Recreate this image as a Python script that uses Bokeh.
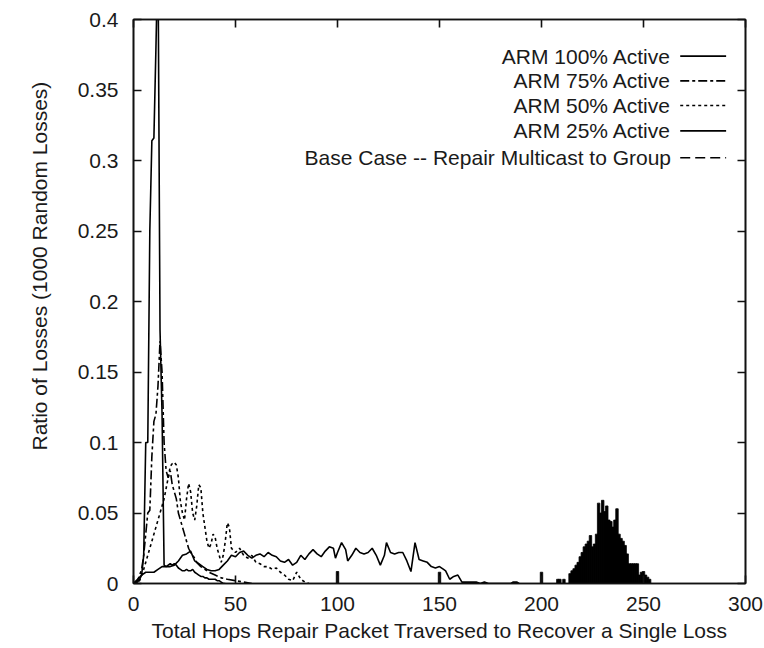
from bokeh.plotting import figure
from bokeh.models import (Range1d, FixedTicker, LinearAxis, CustomJSTickFormatter, Label,
                          Arrow, Title)
from bokeh.embed import file_html
from bokeh.resources import INLINE

# ---------------- data ----------------
arm100_x = [0, 2, 3, 4, 5, 6, 7, 8, 9, 10, 11, 12, 13, 14, 15, 16, 17, 18, 19, 20, 21, 22,
            23, 24, 25, 26, 27, 28, 29, 30, 31, 32, 33, 34, 35, 36, 37, 38, 39, 40, 41, 42,
            43, 44, 45]
arm100_y = [0, 0.001, 0.003, 0.006, 0.02, 0.1, 0.1, 0.25, 0.314, 0.316, 0.38, 0.45, 0.18,
            0.12, 0.013, 0.012, 0.013, 0.014, 0.013, 0.014, 0.013, 0.011, 0.01, 0.009,
            0.009, 0.01, 0.009, 0.009, 0.01, 0.008, 0.007, 0.006, 0.005, 0.005, 0.004,
            0.004, 0.003, 0.003, 0.003, 0.003, 0.002, 0.002, 0.001, 0.0, 0.0]

arm75_x = [0, 2, 4, 5, 6, 7, 8, 9, 10, 11, 12, 13, 14, 15, 16, 17, 18, 19, 20, 21, 22, 23,
           24, 25, 26, 27, 28, 29, 30, 31, 33, 35, 37, 40, 43, 46, 50, 54, 58]
arm75_y = [0, 0.002, 0.01, 0.02, 0.035, 0.05, 0.052, 0.09, 0.115, 0.12, 0.14, 0.172, 0.15,
           0.1, 0.08, 0.075, 0.08, 0.07, 0.065, 0.06, 0.05, 0.045, 0.04, 0.035, 0.03, 0.025,
           0.022, 0.02, 0.018, 0.015, 0.012, 0.01, 0.008, 0.006, 0.004, 0.003, 0.002, 0.001,
           0.0]

arm50_x = [0, 3, 5, 7, 9, 11, 13, 15, 17, 18, 19, 20, 21, 22, 23, 24, 25, 26, 27, 28, 29,
           30, 31, 32, 33, 34, 35, 36, 37, 38, 39, 40, 41, 42, 43, 44, 45, 46, 47, 48, 50,
           52, 54, 56, 58, 60, 62, 64, 66, 68, 70, 72, 74, 76, 78, 80, 82, 84, 86]
arm50_y = [0, 0.002, 0.01, 0.02, 0.03, 0.04, 0.05, 0.06, 0.075, 0.083, 0.085, 0.086, 0.084,
           0.075, 0.058, 0.05, 0.045, 0.06, 0.071, 0.065, 0.05, 0.045, 0.055, 0.07, 0.068,
           0.05, 0.04, 0.03, 0.025, 0.028, 0.035, 0.033, 0.025, 0.02, 0.015, 0.02, 0.03,
           0.043, 0.04, 0.025, 0.022, 0.025, 0.02, 0.018, 0.02, 0.015, 0.014, 0.012, 0.012,
           0.01, 0.011, 0.008, 0.006, 0.003, 0.002, 0.008, 0.003, 0.001, 0.0]

arm25_x = [0, 2, 4, 6, 8, 10, 12, 14, 16, 18, 20, 22, 24, 26, 28, 30, 32, 34, 36, 38, 40,
           42, 44, 46, 48, 50, 52, 54, 56, 58, 60, 62, 64, 66, 68, 70, 72, 74, 76, 78, 80,
           82, 84, 86, 88, 90, 92, 94, 96, 98, 99, 100, 102, 104, 105, 107, 109, 111, 113,
           115, 117, 119, 121, 123, 124, 126, 128, 130, 132, 134, 136, 138, 140, 142, 144,
           146, 148, 150, 152, 153, 155, 157, 159, 161, 163, 168, 170, 172, 174, 185, 186,
           188, 189]
arm25_y = [0, 0.003, 0.006, 0.008, 0.008, 0.008, 0.01, 0.012, 0.012, 0.012, 0.013, 0.016,
           0.02, 0.021, 0.023, 0.016, 0.014, 0.012, 0.01, 0.009, 0.009, 0.01, 0.013, 0.016,
           0.02, 0.019, 0.022, 0.023, 0.02, 0.018, 0.02, 0.021, 0.019, 0.022, 0.02, 0.019,
           0.016, 0.015, 0.017, 0.013, 0.015, 0.02, 0.017, 0.021, 0.024, 0.021, 0.019, 0.023,
           0.026, 0.025, 0.018, 0.022, 0.029, 0.024, 0.016, 0.02, 0.025, 0.022, 0.021, 0.022,
           0.025, 0.02, 0.013, 0.02, 0.029, 0.022, 0.021, 0.022, 0.022, 0.016, 0.0085, 0.029,
           0.017, 0.016, 0.015, 0.012, 0.011, 0.012, 0.01, 0.009, 0.003, 0.005, 0.006, 0.001,
           0.001, 0.001, 0.0, 0.001, 0.0, 0.0, 0.001, 0.001, 0.0]

base_x = [100, 150, 200, 208, 209, 211, 214, 215, 216, 217, 218, 219, 220, 221, 222, 223,
          224, 225, 226, 227, 228, 229, 230, 231, 232, 233, 234, 235, 236, 237, 238, 239,
          240, 241, 242, 243, 244, 245, 246, 247, 248, 249, 250, 251, 252, 253]
base_y = [0.0085, 0.008, 0.008, 0.003, 0.003, 0.003, 0.007, 0.009, 0.0105, 0.013, 0.015,
          0.019, 0.022, 0.026, 0.028, 0.03, 0.034, 0.026, 0.028, 0.035, 0.057, 0.05, 0.059,
          0.051, 0.055, 0.045, 0.044, 0.04, 0.045, 0.053, 0.035, 0.032, 0.03, 0.027, 0.021,
          0.014, 0.014, 0.014, 0.014, 0.014, 0.006, 0.008, 0.0085, 0.006, 0.0045, 0.003]

legend_labels = ["ARM 100% Active", "ARM 75% Active", "ARM 50% Active", "ARM 25% Active",
                 "Base Case -- Repair Multicast to Group"]
y_ticks = [0, 0.05, 0.1, 0.15, 0.2, 0.25, 0.3, 0.35, 0.4]
x_ticks = [0, 50, 100, 150, 200, 250, 300]
x_title = "Total Hops Repair Packet Traversed to Recover a Single Loss"
y_title = "Ratio of Losses (1000 Random Losses)"

# ---------------- figure ----------------
FONT = "Liberation Sans"
TXT = "#1a1a1a"
LW = 1.6

p = figure(width=764, height=648, output_backend="svg", toolbar_location=None,
           x_range=Range1d(0, 300), y_range=Range1d(0, 0.4),
           min_border_left=133, min_border_right=19, min_border_top=19, min_border_bottom=65)
p.grid.visible = False
p.background_fill_color = "white"
p.border_fill_color = "white"
p.outline_line_color = "#111111"
p.outline_line_width = 1.6

fmt = CustomJSTickFormatter(code="var s = tick.toFixed(2); s = s.replace(/0+$/, ''); s = s.replace(/\\.$/, ''); return s;")
blank = CustomJSTickFormatter(code="return '';")

for ax in (p.xaxis[0], p.yaxis[0]):
    ax.major_tick_in = 8
    ax.major_tick_out = 0
    ax.minor_tick_in = 0
    ax.minor_tick_out = 0
    ax.axis_line_color = "#111111"
    ax.axis_line_width = 1.6
    ax.major_tick_line_color = "#111111"
    ax.major_tick_line_width = 1.6
    ax.major_label_text_font = FONT
    ax.major_label_text_font_size = "21px"
    ax.major_label_text_color = TXT
    ax.axis_label_text_font = FONT
    ax.axis_label_text_font_style = "normal"
    ax.axis_label_text_color = TXT

p.xaxis[0].ticker = FixedTicker(ticks=x_ticks)
p.yaxis[0].ticker = FixedTicker(ticks=y_ticks)
p.yaxis[0].formatter = fmt
p.xaxis[0].major_label_standoff = 13
p.yaxis[0].major_label_standoff = 15
p.xaxis[0].axis_label = x_title
p.xaxis[0].axis_label_text_font_size = "21px"
p.xaxis[0].axis_label_standoff = 5

# y title as a side title (lets it sit a little above the frame's middle)
p.add_layout(Title(text=y_title, align="left", offset=133, standoff=48,
                   vertical_align="bottom", text_font=FONT, text_font_size="21px",
                   text_font_style="normal", text_color=TXT), "left")

# mirrored ticks on top and right
top = LinearAxis(ticker=FixedTicker(ticks=x_ticks), formatter=blank)
right = LinearAxis(ticker=FixedTicker(ticks=y_ticks), formatter=blank)
for ax in (top, right):
    ax.major_tick_in = 8
    ax.major_tick_out = 0
    ax.minor_tick_in = 0
    ax.minor_tick_out = 0
    ax.axis_line_color = "#111111"
    ax.axis_line_width = 1.6
    ax.major_tick_line_color = "#111111"
    ax.major_tick_line_width = 1.6
    ax.major_label_text_font_size = "1px"
    ax.major_label_standoff = 0
p.add_layout(top, "above")
p.add_layout(right, "right")

# ---------------- series ----------------
p.line(arm25_x, arm25_y, line_color="black", line_width=LW)
p.line(arm50_x, arm50_y, line_color="black", line_width=LW, line_dash="3 3")
p.line(arm75_x, arm75_y, line_color="black", line_width=LW, line_dash="9 3 3 3")
p.line(arm100_x, arm100_y, line_color="black", line_width=LW)
p.vbar(x=base_x, top=base_y, bottom=0, width=1.2, fill_color="black", line_color="black",
       line_width=0.8)

# ---------------- key (gnuplot style: text right, sample line right) ----------------
key_y = [0.374, 0.3565, 0.339, 0.321, 0.302]
key_dash = ["solid", "9 3 3 3", "3 3", "solid", "10 5"]
for lab, ky, dash in zip(legend_labels, key_y, key_dash):
    p.add_layout(Label(x=263.5, y=ky, text=lab, text_align="right", text_baseline="middle",
                       text_font=FONT, text_font_size="21px", text_color=TXT))
    p.add_layout(Arrow(end=None, start=None, x_start=268, y_start=ky, x_end=290.5, y_end=ky,
                       line_color="black", line_width=LW, line_dash=dash))

open("out.html", "w").write(file_html(p, INLINE))
